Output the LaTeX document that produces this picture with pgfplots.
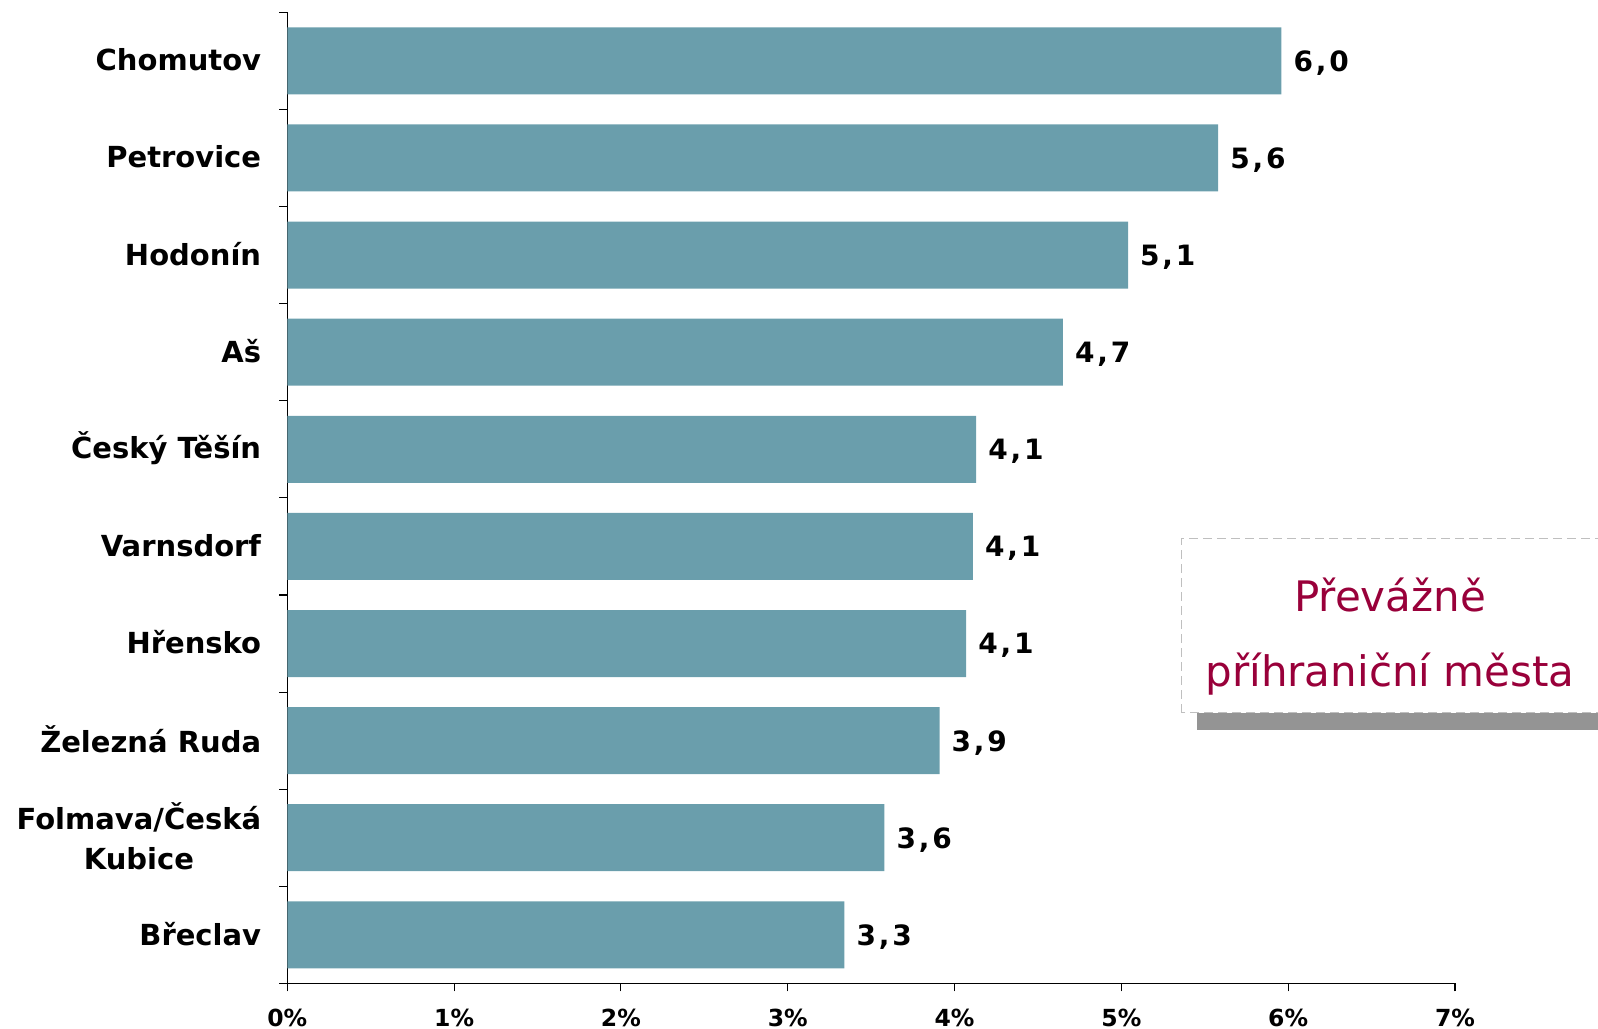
\documentclass[border=0pt]{standalone}
\usepackage{fontspec}
\setmainfont{DejaVu Sans}
\newfontfamily\valfont{DejaVu Sans}[LetterSpace=10]
\usepackage{pgfplots}
\usepackage{pgfplotstable}
\pgfplotsset{compat=1.18}
\definecolor{barc}{HTML}{6A9EAC}
\definecolor{boxred}{HTML}{99003A}
\pgfplotstableread{
y x lab
9 5.96 {6,0}
8 5.58 {5,6}
7 5.04 {5,1}
6 4.65 {4,7}
5 4.13 {4,1}
4 4.11 {4,1}
3 4.07 {4,1}
2 3.91 {3,9}
1 3.58 {3,6}
0 3.34 {3,3}
}\data
\begin{document}
\begin{tikzpicture}
\useasboundingbox (-287.3bp,-45.6bp) rectangle +(1598bp,1029bp);
\begin{axis}[
  scale only axis,
  width=1167.7bp, height=971.1bp,
  xbar, bar width=0.69, bar shift=0pt,
  xmin=0, xmax=7, ymin=-0.5, ymax=9.5,
  axis lines*=left, axis line style={-, black, line width=1.3bp},
  tick align=outside, major tick length=8bp,
  tick style={black, line width=1.1bp},
  xtick={0,...,7},
  xticklabels={0\%,1\%,2\%,3\%,4\%,5\%,6\%,7\%},
  xticklabel style={font=\bfseries\fontsize{23.5bp}{26bp}\selectfont, anchor=base, inner sep=0pt, yshift=-35bp},
  ytick={-0.5,0.5,...,9.5}, yticklabels={},
  extra y ticks={0,...,9},
  extra y tick labels={Břeclav,{Folmava/Česká\\Kubice},Železná Ruda,Hřensko,Varnsdorf,Český Těšín,Aš,Hodonín,Petrovice,Chomutov},
  extra y tick style={major tick length=0pt, yticklabel style={font=\bfseries\fontsize{29bp}{40bp}\selectfont, align=center, anchor=east, inner sep=0pt, xshift=-26bp, yshift=1bp}},
  point meta=explicit symbolic,
  nodes near coords,
  nodes near coords style={anchor=west, inner sep=0pt, xshift=12bp, yshift=-2bp, font=\valfont\bfseries\fontsize{28bp}{30bp}\selectfont, black},
  clip=false,
]
\addplot[fill=barc, draw=none] table[x=x, y=y, meta=lab] {\data};
\end{axis}
\begin{scope}[shift={(-287.3bp,-45.6bp)}, x=1bp, y=1bp]
\fill[black!42] (1196.7,299) rectangle (1640,316.3);
\draw[dash pattern=on 9bp off 5bp, color=black!25, line width=1.5bp, fill=white] (1181.7,316.3) rectangle (1660,490.7);
\node[anchor=base, text=boxred, font=\fontsize{42bp}{48bp}\selectfont, inner sep=0pt] at (1390,417.3) {Převážně};
\node[anchor=base, text=boxred, font=\fontsize{42bp}{48bp}\selectfont, inner sep=0pt] at (1390,342.3) {příhraniční města};
\end{scope}
\end{tikzpicture}
\end{document}
